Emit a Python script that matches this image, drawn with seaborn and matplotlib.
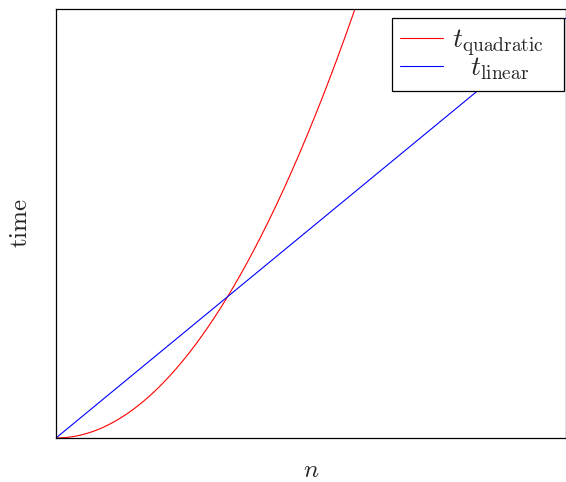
import numpy as np
import pandas as pd
import matplotlib
matplotlib.use("Agg")
import matplotlib.pyplot as plt
import seaborn as sns

# Model: t_linear = a*n, t_quadratic = b*n^2
n_max = 10.0
t_max = 100.0
a_linear = 9.79
b_quadratic = 2.91
series_labels = [r"$t_{\mathrm{quadratic}}$", r"$\hspace{0.75}t_{\mathrm{linear}}$"]
series_colors = ["red", "blue"]

n = np.linspace(0, n_max, 400)
t_quadratic = b_quadratic * n ** 2
t_linear = a_linear * n

df = pd.concat([
    pd.DataFrame({"n": n, "t": t_quadratic, "series": series_labels[0]}),
    pd.DataFrame({"n": n, "t": t_linear, "series": series_labels[1]}),
])

sns.set_style("white")
plt.rcParams["mathtext.fontset"] = "cm"
plt.rcParams["font.family"] = ["DejaVu Serif"]

fig = plt.figure(figsize=(5.66, 4.82), dpi=100)
ax = fig.add_axes([56 / 566, 44 / 482, 510 / 566, 429 / 482])

sns.lineplot(data=df, x="n", y="t", hue="series", palette=series_colors,
             hue_order=series_labels, linewidth=0.8, ax=ax, legend=True)

ax.set_xlim(0, n_max)
ax.set_ylim(0, t_max)
ax.set_xticks([])
ax.set_yticks([])
ax.set_xlabel(r"$n$", fontsize=18, labelpad=15)
ax.set_ylabel(r"$\mathrm{time}$", fontsize=18, labelpad=17)
for s in ax.spines.values():
    s.set_color("black")
    s.set_linewidth(0.9)

leg = ax.legend(loc="upper left", mode="expand", fontsize=20, frameon=True,
                fancybox=False, edgecolor="black", framealpha=1, borderpad=0.3,
                handlelength=1.55, handletextpad=0.3, labelspacing=-0.12,
                borderaxespad=0,
                bbox_to_anchor=(336 / 510, 0.0, 172 / 510, 0.979))
leg.get_frame().set_linewidth(0.9)
for line in leg.get_lines():
    line.set_linewidth(0.8)

fig.savefig("out.png", dpi=100)
